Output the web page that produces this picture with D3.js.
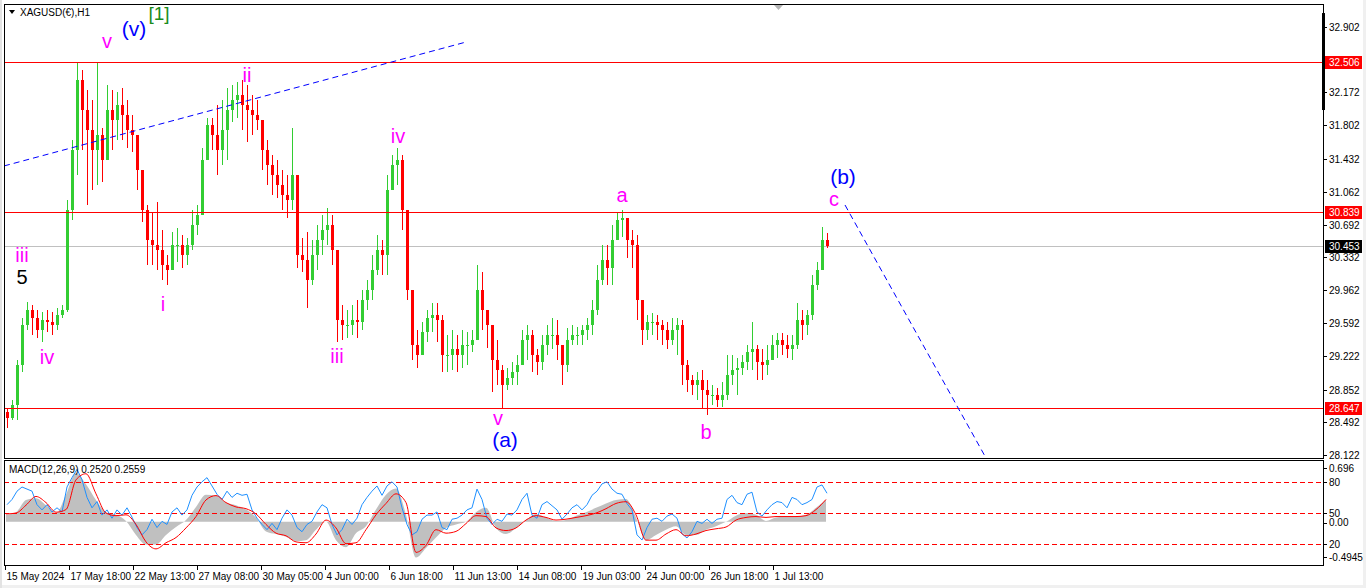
<!DOCTYPE html>
<html><head><meta charset="utf-8">
<script src="https://cdn.jsdelivr.net/npm/d3@7"></script>
<style>
html,body{margin:0;padding:0;background:#fff;overflow:hidden;}
svg{display:block;font-family:"Liberation Sans",Arial,sans-serif;}
</style></head><body>
<svg id="c" width="1366" height="588"></svg>
<script>
// ---------- DATA (hourly bars aggregated in groups of 5) ----------
const barsPerCandle = 5;
const firstOpen = 28.60;
const highs = [
28.65,28.74,29.18,29.65,29.83,29.80,29.74,29.72,29.74,29.72,
29.76,29.80,30.97,31.64,32.51,32.42,32.20,32.09,32.51,31.77,
32.25,32.20,32.18,32.22,32.09,31.92,31.64,31.03,30.91,30.84,
30.95,30.64,30.36,30.61,30.66,30.58,30.55,30.86,30.91,31.55,
31.89,31.89,32.03,32.09,32.22,32.25,32.29,32.31,32.25,32.14,
32.09,31.86,31.64,31.47,31.42,31.31,31.25,31.77,31.25,30.55,
30.61,30.52,30.69,30.80,30.88,30.80,30.28,29.80,29.74,29.80,
29.85,29.97,30.08,30.36,30.58,30.52,31.25,31.47,31.55,31.47,
30.80,29.97,29.52,29.61,29.74,29.82,29.82,29.69,29.46,29.52,
29.46,29.52,29.50,29.52,30.24,30.17,29.74,29.41,29.41,29.13,
29.09,29.16,29.24,29.52,29.57,29.52,29.30,29.46,29.57,29.65,
29.63,29.35,29.54,29.57,29.55,29.57,29.65,29.85,30.24,30.47,
30.47,30.69,30.84,30.86,30.69,30.64,30.58,29.74,29.69,29.71,
29.69,29.63,29.61,29.65,29.65,29.63,29.18,29.02,29.05,29.07,
28.96,28.90,28.87,28.94,29.24,29.24,29.21,29.24,29.35,29.61,
29.35,29.30,29.35,29.46,29.48,29.48,29.46,29.46,29.82,29.74,
29.74,30.13,30.28,30.67,30.60];
const lows = [
28.42,28.51,28.51,29.05,29.52,29.46,29.43,29.38,29.50,29.46,
29.52,29.65,29.72,30.75,31.25,31.53,30.91,31.08,31.14,31.17,
31.42,31.53,31.64,31.64,31.55,31.51,31.08,30.72,30.24,30.24,
30.19,30.08,30.02,30.24,30.28,30.21,30.24,30.41,30.58,30.84,
31.47,31.53,31.25,31.36,31.42,31.84,31.89,31.75,31.62,31.70,
31.75,31.31,31.14,31.03,30.99,30.86,30.77,30.86,30.21,30.17,
29.76,30.02,30.19,30.36,30.47,30.24,29.38,29.41,29.43,29.46,
29.43,29.52,29.74,29.85,30.13,30.13,30.13,31.08,31.14,30.64,
29.85,29.18,29.09,29.35,29.38,29.50,29.38,29.05,29.05,29.07,
29.05,29.09,29.13,29.27,29.41,29.52,29.32,28.83,28.90,28.65,
28.85,28.90,28.90,29.13,29.18,29.05,29.02,29.07,29.24,29.30,
29.18,28.90,29.05,29.35,29.35,29.35,29.41,29.46,29.69,30.02,
30.02,30.02,30.52,30.56,30.32,30.21,29.63,29.35,29.41,29.46,
29.41,29.35,29.30,29.35,29.24,28.90,28.83,28.79,28.74,28.63,
28.57,28.68,28.66,28.66,28.74,28.90,28.79,29.02,29.07,29.07,
28.96,28.96,29.02,29.18,29.21,29.24,29.21,29.18,29.30,29.41,
29.46,29.63,29.97,30.19,30.43];
const closes = [
28.54,28.68,29.13,29.57,29.74,29.65,29.52,29.63,29.61,29.57,
29.69,29.74,30.86,31.53,32.31,31.98,31.75,31.53,31.70,31.42,
31.98,31.86,32.03,31.92,31.75,31.70,31.31,30.86,30.52,30.47,
30.41,30.24,30.19,30.47,30.47,30.36,30.47,30.69,30.80,31.42,
31.81,31.70,31.53,31.75,31.98,32.09,32.14,32.03,31.98,31.92,
31.86,31.53,31.36,31.25,31.14,31.03,30.97,31.25,30.36,30.30,
30.08,30.36,30.52,30.64,30.69,30.41,29.63,29.57,29.57,29.63,
29.61,29.85,29.97,30.19,30.41,30.36,31.08,31.36,31.42,30.86,
29.97,29.35,29.24,29.50,29.65,29.69,29.63,29.24,29.24,29.30,
29.24,29.35,29.35,29.41,29.97,29.74,29.57,29.18,29.07,28.90,
28.98,29.05,29.13,29.41,29.46,29.24,29.16,29.35,29.46,29.46,
29.35,29.13,29.41,29.46,29.46,29.52,29.57,29.74,30.08,30.30,
30.21,30.52,30.75,30.77,30.52,30.47,29.85,29.52,29.61,29.61,
29.57,29.52,29.41,29.52,29.57,29.13,28.96,28.90,28.96,28.85,
28.79,28.79,28.74,28.79,29.02,29.07,29.09,29.16,29.27,29.30,
29.16,29.13,29.18,29.35,29.41,29.35,29.30,29.35,29.63,29.57,
29.69,30.02,30.19,30.52,30.453];

// MACD(12,26,9) sampled every 10 bars
const macdStep = 10;
const macdMain = [
0.08,0.11,0.25,0.27,0.19,0.10,0.31,0.56,0.43,0.25,
0.11,0.08,0.01,-0.15,-0.26,-0.26,-0.15,-0.06,0.02,0.17,
0.31,0.30,0.22,0.19,0.14,0.05,-0.11,-0.14,-0.17,-0.22,
-0.21,-0.09,0.00,-0.21,-0.29,-0.13,-0.05,0.14,0.31,0.38,
0.08,-0.41,-0.30,-0.18,-0.07,-0.03,0.00,0.11,0.16,-0.07,
-0.14,-0.07,0.02,0.09,0.05,0.01,0.02,0.07,0.11,0.16,
0.21,0.25,0.26,0.05,-0.21,-0.15,-0.09,-0.05,-0.15,-0.15,
-0.09,-0.05,0.00,0.07,0.10,0.08,0.01,0.05,0.06,0.06,
0.08,0.16,0.252];
const macdSignal = [
0.09,0.10,0.19,0.29,0.22,0.11,0.14,0.48,0.55,0.32,
0.10,0.07,0.08,-0.03,-0.23,-0.31,-0.24,-0.18,-0.07,0.06,
0.25,0.30,0.22,0.17,0.15,0.09,-0.03,-0.13,-0.16,-0.23,
-0.24,-0.14,0.02,-0.07,-0.25,-0.24,-0.09,0.08,0.21,0.32,
0.22,-0.35,-0.27,-0.09,-0.13,-0.11,-0.02,0.07,0.06,-0.07,
-0.10,-0.07,0.02,0.07,0.05,0.02,0.03,0.05,0.07,0.10,
0.15,0.21,0.23,0.08,-0.21,-0.21,-0.14,-0.09,-0.16,-0.14,
-0.10,-0.08,-0.06,0.02,0.05,0.06,0.05,0.06,0.06,0.06,
0.07,0.14,0.256];
// 0-100 oscillator (levels 20/50/80) sampled every 5 bars
const oscStep = 5;
const oscValues = [
58,63,71,75,73,71,58,53,58,51,
55,51,75,84,92,82,65,55,61,48,
53,45,53,48,55,46,36,29,34,44,
36,42,39,51,55,48,53,67,75,80,
84,76,68,63,71,65,69,67,68,53,
45,39,34,40,34,45,53,48,36,32,
39,42,51,58,55,39,29,34,44,39,
45,58,65,71,76,67,76,80,75,55,
39,29,32,44,48,48,51,36,34,44,
45,48,53,55,73,63,45,39,44,42,
49,48,53,63,69,48,45,58,61,57,
53,44,49,55,58,53,58,67,71,78,
80,73,69,68,59,53,29,24,36,44,
45,42,47,49,45,30,26,32,42,40,
44,40,44,45,63,67,60,58,68,70,
51,47,53,58,61,60,55,65,63,58,
60,63,75,77,69];
const oscLevels = [80, 50, 20];

// axes
const priceTicks = [32.902,32.172,31.802,31.432,31.062,30.692,30.332,29.962,29.592,29.222,28.852,28.492,28.122];
const levelPrices = [32.506, 30.839, 28.647];
const currentPrice = 30.453;
const dateLabels = ["15 May 2024","17 May 18:00","22 May 13:00","27 May 08:00","30 May 05:00","4 Jun 00:00","6 Jun 18:00","11 Jun 13:00","14 Jun 08:00","19 Jun 03:00","24 Jun 00:00","26 Jun 18:00","1 Jul 13:00"];
const barsPerDateLabel = 64;
const macdMax = 0.696, macdMin = -0.4945;

// annotations: [text, bar, price, colour]
const waveLabels = [
 ["v",102,32.745,"#ff00ff"],["(v)",129,32.880,"#0000ff"],["[1]",154,33.058,"#1a8c1a"],
 ["iii",17,30.355,"#ff00ff"],["5",17,30.110,"#000000"],["iv",42,29.216,"#ff00ff"],
 ["i",158,29.808,"#ff00ff"],["ii",242,32.366,"#ff00ff"],["iii",332,29.228,"#ff00ff"],
 ["iv",393,31.685,"#ff00ff"],["v",493,28.535,"#ff00ff"],["(a)",500,28.300,"#0000ff"],
 ["a",617,31.026,"#ff00ff"],["b",701,28.379,"#ff00ff"],["(b)",838,31.230,"#0000ff"],
 ["c",829,30.980,"#ff00ff"]];
const trendLines = [[[-1,31.350],[461,32.734]],[[840,30.914],[981,28.088]]];

// ---------- LAYOUT ----------
const L=4, R=1323, mT=4, mB=458, sT=461, sB=565;
const svg = d3.select("#c");
svg.append("rect").attr("width",1366).attr("height",588).attr("fill","#fff");
svg.append("rect").attr("x",0).attr("y",585).attr("width",1366).attr("height",3).attr("fill","#f0f0f0");
svg.append("rect").attr("x",1363).attr("y",0).attr("width",3).attr("height",588).attr("fill","#f0f0f0");
svg.append("rect").attr("x",0).attr("y",0).attr("width",2).attr("height",588).attr("fill","#e3e3e3");

const nBars = 1318;
const x = d3.scaleLinear().domain([0,nBars]).range([5,R]);
const y = d3.scaleLinear().domain([28.088,33.159]).range([mB,mT]);
const yM = d3.scaleLinear().domain([macdMin,macdMax]).range([sB,sT]);
const yO = d3.scaleLinear().domain([0,100]).range([sB,sT]);

const defs = svg.append("defs");
defs.append("clipPath").attr("id","cm").append("rect").attr("x",L+1).attr("y",mT+1).attr("width",R-L-1).attr("height",mB-mT-1);
defs.append("clipPath").attr("id","cs").append("rect").attr("x",L+1).attr("y",sT+1).attr("width",R-L-1).attr("height",sB-sT-1);

const gm = svg.append("g").attr("clip-path","url(#cm)");
// current price line
gm.append("line").attr("x1",L).attr("x2",R).attr("y1",Math.round(y(currentPrice))+0.5).attr("y2",Math.round(y(currentPrice))+0.5)
  .attr("stroke","#c0c0c0").attr("stroke-width",1);
// candles
const candles = closes.map((c,i)=>({i,o:i===0?firstOpen:closes[i-1],h:highs[i],l:lows[i],c}));
const cg = gm.append("g").attr("shape-rendering","crispEdges");
candles.forEach(d=>{
  const col = d.c>=d.o ? "#32cd32" : "#ff0000";
  const x0 = Math.round(x(d.i*barsPerCandle));
  const top = Math.max(d.h,d.o,d.c), bot = Math.min(d.l,d.o,d.c);
  cg.append("rect").attr("x",x0+2).attr("y",y(top)).attr("width",1).attr("height",Math.max(1,y(bot)-y(top))).attr("fill",col);
  const bt = Math.max(d.o,d.c), bb = Math.min(d.o,d.c);
  cg.append("rect").attr("x",x0+1).attr("y",y(bt)).attr("width",3).attr("height",Math.max(1,y(bb)-y(bt))).attr("fill",col);
});
// horizontal levels
levelPrices.forEach(p=>{
  const yy = Math.round(y(p))+0.5;
  gm.append("line").attr("x1",L).attr("x2",R).attr("y1",yy).attr("y2",yy).attr("stroke","#ff0000").attr("stroke-width",1);
});
// trend lines
trendLines.forEach(t=>{
  gm.append("line").attr("x1",x(t[0][0])).attr("y1",y(t[0][1])).attr("x2",x(t[1][0])).attr("y2",y(t[1][1]))
    .attr("stroke","#0000ff").attr("stroke-width",1).attr("stroke-dasharray","6,4");
});
// wave labels
waveLabels.forEach(w=>{
  const big = w[0].startsWith("(") ;
  gm.append("text").attr("x",x(w[1])).attr("y",y(w[2])).attr("text-anchor","middle").attr("dominant-baseline","central")
    .attr("fill",w[3]).attr("font-size", big?21:(w[0]==="[1]"?19:20)).attr("font-family","'Liberation Sans',Arial,sans-serif")
    .text(w[0]);
});

// frames
svg.append("rect").attr("x",L+0.5).attr("y",mT+0.5).attr("width",R-L).attr("height",mB-mT).attr("fill","none").attr("stroke","#000");
svg.append("rect").attr("x",L+0.5).attr("y",sT-0.5).attr("width",R-L).attr("height",sB-sT+1).attr("fill","none").attr("stroke","#000");

// title
svg.append("path").attr("d","M9,10 L15,10 L12,14 Z").attr("fill","#000");
svg.append("text").attr("x",20).attr("y",12).attr("dominant-baseline","central").attr("font-size",10).attr("fill","#000").text("XAGUSD(€),H1");
// chart-shift marker
svg.append("path").attr("d","M774,5 L783,5 L778.5,10 Z").attr("fill","#b4b4b4");
// right black bar on axis
svg.append("rect").attr("x",1322).attr("y",y(33.058)).attr("width",3).attr("height",y(31.975)-y(33.058)).attr("fill","#000");

// price axis
const ax = svg.append("g").attr("font-size",10).attr("fill","#000");
priceTicks.forEach(p=>{
  const yy = Math.round(y(p))+0.5;
  ax.append("line").attr("x1",R).attr("x2",R+4).attr("y1",yy).attr("y2",yy).attr("stroke","#000");
  ax.append("text").attr("x",R+6).attr("y",yy).attr("dominant-baseline","central").text(p.toFixed(3));
});
levelPrices.concat([currentPrice]).forEach((p,i)=>{
  const yy = Math.round(y(p))+0.5;
  ax.append("rect").attr("x",R+2).attr("y",yy-6.5).attr("width",37).attr("height",13).attr("fill",i<3?"#ff0000":"#000");
  ax.append("text").attr("x",R+6).attr("y",yy).attr("dominant-baseline","central").attr("fill","#fff").text(p.toFixed(3));
});

// ---------- SUB WINDOW ----------
const gs = svg.append("g").attr("clip-path","url(#cs)");
const xm = (k)=>x(1+k*macdStep);
gs.append("path").datum(macdMain)
  .attr("d",d3.area().x((d,k)=>xm(k)).y0(yM(0)).y1(d=>yM(d)).curve(d3.curveMonotoneX))
  .attr("fill","#c0c0c0");
oscLevels.forEach(v=>{
  gs.append("line").attr("x1",L).attr("x2",R).attr("y1",Math.round(yO(v))+0.5).attr("y2",Math.round(yO(v))+0.5)
    .attr("stroke","#ff0000").attr("stroke-dasharray","5,3");
});
gs.append("path").datum(oscValues)
  .attr("d",d3.line().x((d,k)=>x(2+k*oscStep)).y(d=>yO(d)))
  .attr("fill","none").attr("stroke","#1e90ff").attr("stroke-width",1);
gs.append("path").datum(macdSignal)
  .attr("d",d3.line().x((d,k)=>xm(k)).y(d=>yM(d)).curve(d3.curveMonotoneX))
  .attr("fill","none").attr("stroke","#ff0000").attr("stroke-width",1);
svg.append("text").attr("x",9).attr("y",469).attr("dominant-baseline","central").attr("font-size",10)
  .text("MACD(12,26,9) 0.2520 0.2559");

const as = svg.append("g").attr("font-size",10);
[[macdMax,"0.696",7],[0,"0.00",1],[macdMin,"-0.4945",-8]].forEach(a=>{
  const yy = yM(a[0])+a[2];
  as.append("line").attr("x1",R).attr("x2",R+4).attr("y1",Math.round(yy)+0.5).attr("y2",Math.round(yy)+0.5).attr("stroke","#000");
  as.append("text").attr("x",R+6).attr("y",yy).attr("dominant-baseline","central").attr("fill","#000").text(a[1]);
});
oscLevels.forEach(v=>{
  const yy = Math.round(yO(v))+0.5;
  as.append("line").attr("x1",R).attr("x2",R+4).attr("y1",yy).attr("y2",yy).attr("stroke","#000");
  as.append("text").attr("x",R+6).attr("y",yy).attr("dominant-baseline","central").attr("fill","#000").text(v);
});

// time axis
const at = svg.append("g").attr("font-size",10);
dateLabels.forEach((t,i)=>{
  const xx = Math.round(x(i*barsPerDateLabel))+0.5;
  at.append("line").attr("x1",xx).attr("x2",xx).attr("y1",sB+1).attr("y2",sB+5).attr("stroke","#000");
  at.append("text").attr("x",xx+1).attr("y",576).attr("dominant-baseline","central").attr("fill","#000").text(t);
});
</script></body></html>
